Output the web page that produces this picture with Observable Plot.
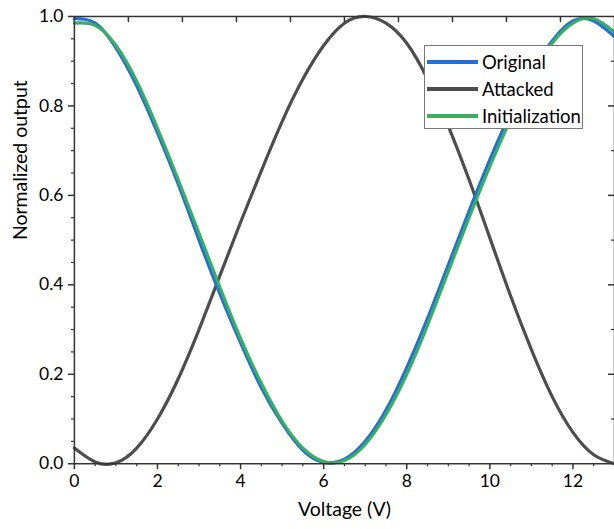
<!DOCTYPE html>
<html><head><meta charset="utf-8">
<script src="https://cdn.jsdelivr.net/npm/d3@7"></script>
<script src="https://cdn.jsdelivr.net/npm/@observablehq/plot@0.6"></script>
<style>
html,body{margin:0;padding:0;overflow:hidden;background:#fff;width:614px;height:529px;}
#wrap{position:relative;width:614px;height:529px;overflow:hidden;}
#legend{position:absolute;left:424px;top:45px;width:159px;height:84px;border:1px solid #777;background:#fff;font-family:Lato,"Open Sans",sans-serif;font-size:18.5px;color:#000;box-sizing:border-box;}
.row{position:absolute;left:0;height:22px;display:flex;align-items:center;}
.sw{width:51px;height:4px;margin-left:2px;margin-right:4px;}
</style></head>
<body><div id="wrap"></div>
<script>
const volts = [0,0.5,1,1.5,2,2.5,3,3.5,4,4.5,5,5.5,6,6.5,7,7.5,8,8.5,9,9.5,10,10.5,11,11.5,12,12.5,13];
const original = [0.995,0.985,0.93,0.845,0.74,0.625,0.5,0.38,0.27,0.17,0.09,0.03,0.003,0.01,0.05,0.12,0.215,0.325,0.445,0.565,0.68,0.785,0.875,0.945,0.99,0.99,0.955];
const attacked = [0.035,0.004,0.002,0.035,0.1,0.19,0.3,0.42,0.54,0.655,0.765,0.86,0.935,0.985,1.0,0.985,0.94,0.86,0.755,0.635,0.505,0.375,0.255,0.15,0.07,0.02,0.0];
const initialization = [0.985,0.98,0.935,0.855,0.75,0.635,0.515,0.395,0.28,0.18,0.095,0.035,0.005,0.007,0.043,0.11,0.2,0.31,0.43,0.55,0.665,0.77,0.865,0.94,0.985,0.995,0.965];
const seriesNames = ["Original","Attacked","Initialization"];
const seriesColors = ["#1f6fdc","#4d4d4d","#3aad5f"];
const xMajorTicks = [0,2,4,6,8,10,12];
const xMinorTicks = [0.5,1,1.5,2.5,3,3.5,4.5,5,5.5,6.5,7,7.5,8.5,9,9.5,10.5,11,11.5,12.5];
const yMajorTicks = [0,0.2,0.4,0.6,0.8,1.0];
const yMinorTicks = [0.05,0.1,0.15,0.25,0.3,0.35,0.45,0.5,0.55,0.65,0.7,0.75,0.85,0.9,0.95];
const topTicks = [1.3,2.6,3.9,5.2,6.5,7.8,9.1,10.4,11.7];
const rightMajorTicks = [0.2,0.4,0.6,0.8];
const rightMinorTicks = [0.1,0.3,0.5,0.7,0.9];

const mk = arr => volts.map((v,i)=>({x:v,y:arr[i]}));
const blank = () => "";
const plot = Plot.plot({
  width: 615, height: 529,
  marginLeft: 74, marginRight: 0, marginTop: 16, marginBottom: 65,
  style: {fontFamily: "Lato, 'Open Sans', sans-serif", fontSize: "17.5px", color: "#000", background: "#fff", overflow: "visible"},
  x: {domain: [0, 13], label: null},
  y: {domain: [0, 1], label: null},
  marks: [
    Plot.line(mk(attacked), {x:"x", y:"y", stroke: seriesColors[1], strokeWidth: 3.2, curve: "natural"}),
    Plot.line(mk(original), {x:"x", y:"y", stroke: seriesColors[0], strokeWidth: 3.2, curve: "natural"}),
    Plot.line(mk(initialization), {x:"x", y:"y", stroke: seriesColors[2], strokeWidth: 3.2, curve: "natural"}),
    Plot.frame({stroke: "#333", strokeWidth: 1.5}),
    Plot.axisX({ticks: xMajorTicks, tickSize: 6, tickPadding: 5, tickFormat: d => d, label: null, stroke: "#333", strokeWidth: 1.5}),
    Plot.axisX({ticks: xMinorTicks, tickSize: 3, tickFormat: blank, label: null, stroke: "#333", strokeWidth: 1.2}),
    Plot.axisY({ticks: yMajorTicks, tickSize: 6, tickPadding: 5, tickFormat: d3.format(".1f"), label: null, stroke: "#333", strokeWidth: 1.5}),
    Plot.axisY({ticks: yMinorTicks, tickSize: 3, tickFormat: blank, label: null, stroke: "#333", strokeWidth: 1.2}),
    Plot.axisX({anchor: "top", ticks: topTicks, tickSize: 5, dy: 5, tickFormat: blank, label: null, stroke: "#333", strokeWidth: 1.5}),
    Plot.axisY({anchor: "right", ticks: rightMajorTicks, tickSize: 6, dx: -7, tickFormat: blank, label: null, stroke: "#333", strokeWidth: 1.5}),
    Plot.axisY({anchor: "right", ticks: rightMinorTicks, tickSize: 3, dx: -4, tickFormat: blank, label: null, stroke: "#333", strokeWidth: 1.2}),
    Plot.text(["Voltage (V)"], {frameAnchor: "bottom", dy: 52, fontSize: 19.5, fill: "#000"}),
    Plot.text(["Normalized output"], {frameAnchor: "left", dx: -54, rotate: -90, fontSize: 19.5, fill: "#000"})
  ]
});
const wrap = document.getElementById("wrap");
wrap.appendChild(plot);
const lg = document.createElement("div");
lg.id = "legend";
seriesNames.forEach((n,i)=>{
  const r = document.createElement("div");
  r.className = "row";
  r.style.top = (5 + i*27) + "px";
  const s = document.createElement("div");
  s.className = "sw"; s.style.background = seriesColors[i];
  const t = document.createElement("span"); t.textContent = n;
  r.appendChild(s); r.appendChild(t); lg.appendChild(r);
});
wrap.appendChild(lg);
</script></body></html>
